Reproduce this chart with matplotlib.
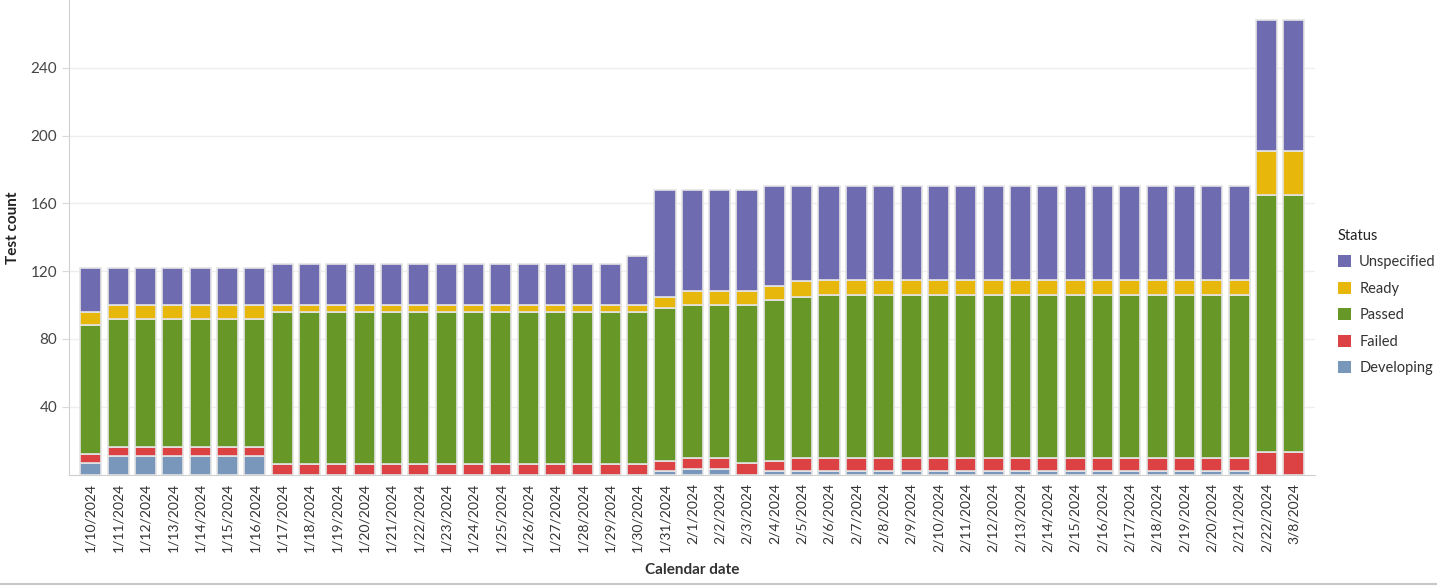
# Stacked test status counts by calendar date

import matplotlib.pyplot as plt
from matplotlib.patches import Patch
from matplotlib.lines import Line2D

plt.rcParams['font.family'] = ['Lato', 'DejaVu Sans']

dates = ['1/10/2024', '1/11/2024', '1/12/2024', '1/13/2024', '1/14/2024',
         '1/15/2024', '1/16/2024', '1/17/2024', '1/18/2024', '1/19/2024',
         '1/20/2024', '1/21/2024', '1/22/2024', '1/23/2024', '1/24/2024',
         '1/25/2024', '1/26/2024', '1/27/2024', '1/28/2024', '1/29/2024',
         '1/30/2024', '1/31/2024', '2/1/2024', '2/2/2024', '2/3/2024',
         '2/4/2024', '2/5/2024', '2/6/2024', '2/7/2024', '2/8/2024',
         '2/9/2024', '2/10/2024', '2/11/2024', '2/12/2024', '2/13/2024',
         '2/14/2024', '2/15/2024', '2/16/2024', '2/17/2024', '2/18/2024',
         '2/19/2024', '2/20/2024', '2/21/2024', '2/22/2024', '3/8/2024']

developing = [7, 11, 11, 11, 11, 11, 11,
              0, 0, 0, 0, 0, 0, 0, 0, 0, 0, 0, 0, 0, 0,
              2, 3, 3, 0, 2,
              2, 2, 2, 2, 2, 2, 2, 2, 2, 2, 2, 2, 2, 2, 2, 2, 2,
              0, 0]
failed = [5, 5, 5, 5, 5, 5, 5,
          6, 6, 6, 6, 6, 6, 6, 6, 6, 6, 6, 6, 6, 6,
          6, 7, 7, 7, 6,
          8, 8, 8, 8, 8, 8, 8, 8, 8, 8, 8, 8, 8, 8, 8, 8, 8,
          13, 13]
passed = [76, 76, 76, 76, 76, 76, 76,
          90, 90, 90, 90, 90, 90, 90, 90, 90, 90, 90, 90, 90, 90,
          90, 90, 90, 93, 95,
          95, 96, 96, 96, 96, 96, 96, 96, 96, 96, 96, 96, 96, 96, 96, 96, 96,
          152, 152]
ready = [8, 8, 8, 8, 8, 8, 8,
         4, 4, 4, 4, 4, 4, 4, 4, 4, 4, 4, 4, 4, 4,
         7, 8, 8, 8, 8,
         9, 9, 9, 9, 9, 9, 9, 9, 9, 9, 9, 9, 9, 9, 9, 9, 9,
         26, 26]
unspecified = [26, 22, 22, 22, 22, 22, 22,
               24, 24, 24, 24, 24, 24, 24, 24, 24, 24, 24, 24, 24, 29,
               63, 60, 60, 60, 59,
               56, 55, 55, 55, 55, 55, 55, 55, 55, 55, 55, 55, 55, 55, 55, 55, 55,
               77, 77]

series = [
    ('Developing', developing, '#7897bb'),
    ('Failed', failed, '#dc4144'),
    ('Passed', passed, '#669727'),
    ('Ready', ready, '#e8b70c'),
    ('Unspecified', unspecified, '#6f6bb0'),
]

fig = plt.figure(figsize=(14.37, 5.88), dpi=100)
ax = fig.add_axes([0.048, 0.193, 0.867, 0.807])

x = list(range(len(dates)))
bottom = [0] * len(dates)
for name, vals, color in series:
    ax.bar(x, vals, bottom=bottom, width=0.77, color=color,
           edgecolor='#e4e4e4', linewidth=1.2, label=name, zorder=3)
    bottom = [b + v for b, v in zip(bottom, vals)]

ax.set_xlim(-0.8, len(dates) - 0.23)
ax.set_ylim(0, 280)
ax.set_yticks([40, 80, 120, 160, 200, 240])
ax.set_xticks(x)
ax.set_xticklabels(dates, rotation=90, fontsize=10, color='#333333')
ax.tick_params(axis='y', labelsize=11, labelcolor='#444444', color='#d9d9d9',
               length=5)
ax.tick_params(axis='x', length=0, pad=6)
ax.grid(axis='y', color='#eeeeee', linewidth=1, zorder=0)

for s in ['top', 'right']:
    ax.spines[s].set_visible(False)
ax.spines['left'].set_color('#d0d0d0')
ax.spines['bottom'].set_color('#d0d0d0')

ax.set_ylabel('Test count', fontsize=11, fontweight='bold', color='#222222')
ax.yaxis.set_label_coords(-0.039, 0.52)
ax.set_xlabel('Calendar date', fontsize=11, fontweight='bold', color='#333333',
              labelpad=8)

handles = [Patch(facecolor=c, edgecolor='none', label=n)
           for n, _, c in reversed(series)]
leg = fig.legend(handles=handles, title='Status', loc='upper left',
                 bbox_to_anchor=(0.924, 0.628), frameon=False, fontsize=10.5,
                 title_fontsize=10.5, handlelength=0.9, handleheight=0.9,
                 handletextpad=0.55, labelspacing=0.85, alignment='left',
                 borderpad=0.2)
for t in leg.get_texts():
    t.set_color('#333333')
leg.get_title().set_color('#222222')

fig.add_artist(Line2D([0, 1], [0.006, 0.006], transform=fig.transFigure,
                      color='#c8c8c8', linewidth=1.5))

fig.savefig('out.png', dpi=100)
